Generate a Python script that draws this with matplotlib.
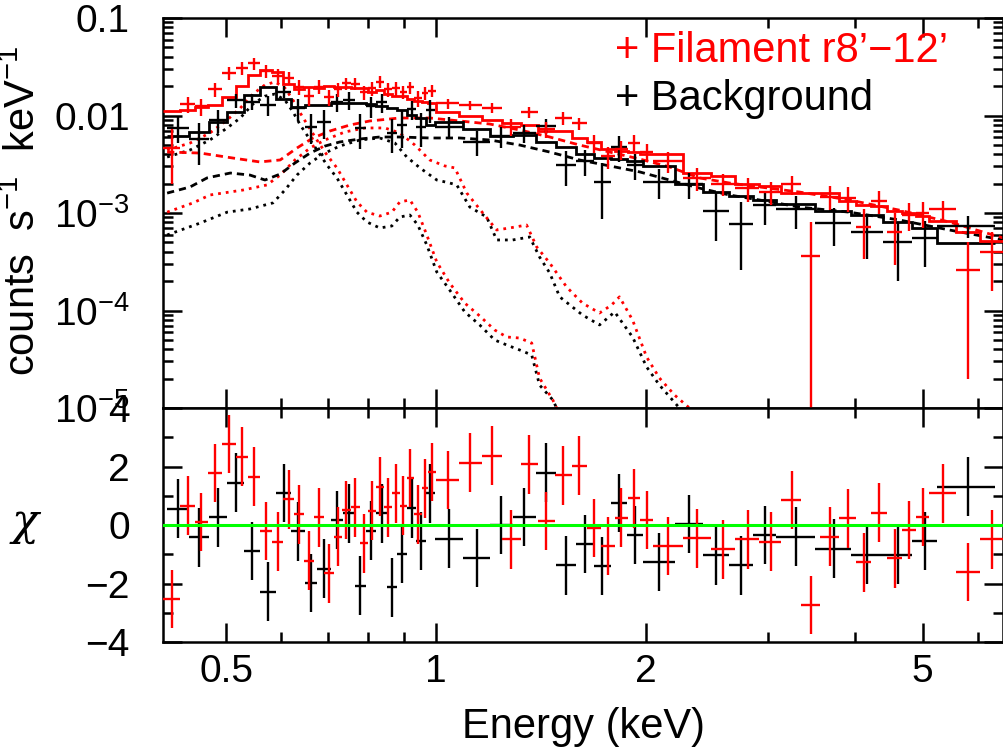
import numpy as np
import matplotlib.pyplot as plt
from matplotlib.ticker import FixedLocator, FixedFormatter, NullFormatter

plt.rcParams['font.family'] = ['Liberation Sans', 'DejaVu Sans']
plt.rcParams['mathtext.fontset'] = 'custom'
plt.rcParams['mathtext.rm'] = 'Liberation Sans'
plt.rcParams['mathtext.it'] = 'Liberation Sans:italic'
plt.rcParams['mathtext.bf'] = 'Liberation Sans:bold'

# ---- Filament r8'-12' (red) : bin edges (keV), counts/s/keV, 1-sigma, folded model, chi
red_edges = [0.406, 0.430, 0.451, 0.471, 0.494, 0.517, 0.538, 0.559, 0.582, 0.604,
             0.626, 0.647, 0.669, 0.691, 0.714, 0.733, 0.755, 0.778, 0.799, 0.820,
             0.842, 0.865, 0.888, 0.909, 0.930, 0.955, 0.974, 1.000, 1.079, 1.164,
             1.243, 1.324, 1.400, 1.481, 1.567, 1.646, 1.724, 1.806, 1.885, 1.967,
             2.047, 2.260, 2.480, 2.692, 2.913, 3.133, 3.347, 3.564, 3.795, 4.014,
             4.217, 4.445, 4.671, 4.892, 5.107, 5.582, 6.042, 6.52]
red_flux = [0.0046, 0.0130, 0.0124, 0.0186, 0.0271, 0.0305, 0.0343, 0.0288, 0.0256, 0.0243,
            0.0197, 0.0157, 0.0198, 0.0154, 0.0186, 0.0214, 0.0212, 0.0173, 0.0190, 0.0222,
            0.0186, 0.0190, 0.0175, 0.0194, 0.0150, 0.0169, 0.0180, 0.0133, 0.0128, 0.0120,
            0.0077, 0.0109, 0.0072, 0.0094, 0.0083, 0.0052, 0.0038, 0.0045, 0.0052, 0.0042,
            0.0034, 0.0023, 0.0020, 0.0018, 0.00165, 0.00197, 0.00036, 0.00147, 0.00143, 0.00072,
            0.00133, 0.00064, 0.00096, 0.00101, 0.00109, 0.00026, 0.00040]
red_err = [0.0026, 0.0023, 0.0025, 0.0032, 0.0042, 0.0045, 0.0049, 0.0045, 0.0045, 0.0035,
           0.0033, 0.0033, 0.0031, 0.0028, 0.0030, 0.0031, 0.0031, 0.0030, 0.0030, 0.0030,
           0.0030, 0.0030, 0.0028, 0.0028, 0.0027, 0.0026, 0.0025, 0.0016, 0.0014, 0.0013,
           0.0015, 0.0014, 0.0013, 0.0014, 0.0012, 0.0011, 0.0010, 0.0010, 0.0011, 0.0009,
           0.0008, 0.0006, 0.0005, 0.0005, 0.00045, 0.00045, 0.00045, 0.0004, 0.0004, 0.00038,
           0.00035, 0.00035, 0.0003, 0.0003, 0.00025, 0.00024, 0.00024]
red_model = [0.0112, 0.0115, 0.0122, 0.0129, 0.0155, 0.0200, 0.0262, 0.0295, 0.0282, 0.0212,
             0.0185, 0.0195, 0.0190, 0.0200, 0.0198, 0.0198, 0.0193, 0.0192, 0.0175, 0.0183,
             0.0168, 0.0158, 0.0157, 0.0149, 0.0140, 0.0136, 0.0135, 0.0109, 0.0098, 0.0089,
             0.0084, 0.0080, 0.0070, 0.0070, 0.0059, 0.0053, 0.0045, 0.0043, 0.0042, 0.0040,
             0.0040, 0.0026, 0.0024, 0.0020, 0.0019, 0.0016, 0.00159, 0.0016, 0.00134, 0.00121,
             0.00118, 0.00104, 0.00101, 0.00093, 0.00082, 0.00064, 0.00052]
red_chi = [-2.53, 0.66, 0.10, 1.78, 2.77, 2.34, 1.65, -0.20, -0.57, 0.88,
           0.36, -1.22, 0.26, -1.65, -0.40, 0.51, 0.60, -0.63, 0.49, 1.31,
           0.60, 1.08, 0.66, 1.60, 0.36, 1.25, 1.82, 1.53, 2.13, 2.37,
           -0.49, 2.07, 0.13, 1.70, 2.03, -0.10, -0.71, 0.25, 0.91, 0.17,
           -0.72, -0.46, -0.83, -0.49, -0.57, 0.85, -2.74, -0.40, 0.23, -1.28,
           0.42, -1.14, -0.17, 0.28, 1.08, -1.60, -0.49]

# ---- Background (black)
blk_edges = [0.4115, 0.4424, 0.4727, 0.5018, 0.5306, 0.5594, 0.5897, 0.6196, 0.6489, 0.6751,
             0.7070, 0.7357, 0.7654, 0.7938, 0.8218, 0.8521, 0.8806, 0.9087, 0.9376, 0.9676,
             0.9967, 1.0950, 1.1951, 1.2895, 1.3911, 1.4886, 1.5876, 1.6847, 1.7848, 1.8817,
             1.9802, 2.2014, 2.4144, 2.6346, 2.8564, 3.0768, 3.5055, 3.9480, 4.3810, 4.8206,
             5.2446, 6.3505]
blk_flux = [0.0074, 0.0057, 0.0090, 0.0144, 0.0139, 0.0128, 0.0176, 0.0118, 0.0077, 0.0086,
            0.0138, 0.0145, 0.0074, 0.0124, 0.0137, 0.0066, 0.0080, 0.0116, 0.0077, 0.0114,
            0.0077, 0.0054, 0.0061, 0.0066, 0.0078, 0.0031, 0.0034, 0.00206, 0.0047, 0.0031,
            0.0021, 0.00198, 0.00106, 0.00078, 0.00121, 0.00109, 0.00079, 0.00064, 0.00050, 0.00055,
            0.00074]
blk_err = [0.0022, 0.0026, 0.0024, 0.0024, 0.0026, 0.0030, 0.0025, 0.0030, 0.0026, 0.0028,
           0.0030, 0.0030, 0.0029, 0.0030, 0.0030, 0.0025, 0.0034, 0.0026, 0.0030, 0.0031,
           0.0019, 0.0016, 0.0015, 0.0014, 0.0014, 0.0012, 0.0010, 0.0012, 0.0014, 0.0009,
           0.0007, 0.0006, 0.00054, 0.00052, 0.00046, 0.0004, 0.00033, 0.0003, 0.0003, 0.00027,
           0.00019]
blk_model = [0.0062, 0.0068, 0.0086, 0.0109, 0.0162, 0.0197, 0.0149, 0.0122, 0.0129, 0.0128,
             0.0133, 0.0133, 0.0134, 0.0130, 0.0125, 0.0119, 0.0114, 0.0101, 0.0094, 0.0080,
             0.0086, 0.0072, 0.0061, 0.0063, 0.0053, 0.0048, 0.0040, 0.0037, 0.0036, 0.0034,
             0.0030, 0.0020, 0.00165, 0.00150, 0.00137, 0.00124, 0.00106, 0.00095, 0.00081, 0.00070,
             0.00049]
blk_chi = [0.56, -0.42, 0.26, 1.45, -0.89, -2.28, 1.10, -0.22, -1.99, -1.49,
           0.17, 0.40, -2.07, -0.19, 0.40, -2.13, -0.99, 0.57, -0.55, 1.08,
           -0.47, -1.13, 0.00, 0.28, 1.79, -1.38, -0.65, -1.40, 0.76, -0.34,
           -1.26, 0.03, -1.04, -1.38, -0.35, -0.40, -0.81, -1.01, -1.01, -0.55,
           1.31]

# ---- model components (keV, counts/s/keV)
# soft thermal component peaking near 0.57 keV (dotted)
blk_soft_e = [0.4115, 0.444, 0.474, 0.5018, 0.524, 0.5464, 0.5686, 0.5876, 0.6074, 0.6237,
              0.639, 0.6532, 0.6751, 0.6978, 0.7213, 0.7455, 0.7706, 0.7964, 0.831, 0.8648,
              0.888, 0.918, 0.9423, 0.9707, 1.0033, 1.047, 1.1006, 1.156, 1.215, 1.264,
              1.319, 1.373, 1.409, 1.472, 1.496]
blk_soft_f = [0.00375, 0.00443, 0.00561, 0.00745, 0.00943, 0.0131, 0.0158, 0.0166, 0.0144, 0.0109,
              0.00799, 0.00631, 0.00443, 0.00311, 0.00229, 0.00153, 0.00102, 0.000809, 0.000702, 0.000736,
              0.000910, 0.000953, 0.000753, 0.000470, 0.000248, 0.000162, 0.0000966, 0.0000711, 0.0000498, 0.0000443,
              0.0000394, 0.0000350, 0.0000172, 0.0000121, 0.0000095]
red_soft_e = blk_soft_e
red_soft_f = [0.00443, 0.00522, 0.00662, 0.00899, 0.0119, 0.0166, 0.0206, 0.0221, 0.0191, 0.0144,
              0.0106, 0.00818, 0.00561, 0.00394, 0.00290, 0.00194, 0.00130, 0.00102, 0.000931, 0.00102,
              0.00130, 0.00136, 0.00102, 0.000595, 0.000314, 0.000191, 0.000119, 0.0000879, 0.0000631, 0.0000535,
              0.0000522, 0.0000464, 0.0000203, 0.0000121, 0.0000095]
# warmer thermal component (dotted)
blk_warm_e = [0.4115, 0.459, 0.5018, 0.541, 0.5839, 0.6074, 0.6320, 0.660, 0.6887, 0.728,
              0.778, 0.831, 0.8736, 0.9087, 0.949, 1.0033, 1.047, 1.0717, 1.119, 1.183,
              1.223, 1.2895, 1.364, 1.409, 1.457, 1.506, 1.624, 1.718, 1.806, 1.916,
              2.007, 2.094, 2.237]
blk_warm_f = [0.000595, 0.000789, 0.00102, 0.00110, 0.00127, 0.00172, 0.00245, 0.00326, 0.00403, 0.00486,
              0.00561, 0.00588, 0.00522, 0.00375, 0.00290, 0.00218, 0.00203, 0.00194, 0.00115, 0.000910,
              0.000529, 0.000529, 0.000568, 0.000354, 0.000243, 0.000138, 0.0000899, 0.0000711, 0.0000966, 0.0000535,
              0.0000264, 0.0000172, 0.00001]
red_warm_e = [0.4115, 0.4484, 0.474, 0.5288, 0.5724, 0.598, 0.6279, 0.660, 0.6933, 0.7405,
              0.7911, 0.8452, 0.888, 0.9330, 0.980, 1.030, 1.065, 1.108, 1.168, 1.223,
              1.276, 1.350, 1.396, 1.457, 1.541, 1.624, 1.718, 1.788, 1.835, 1.916,
              2.007, 2.094, 2.201, 2.312]
red_warm_f = [0.00102, 0.00127, 0.00153, 0.00172, 0.00194, 0.00245, 0.00350, 0.00464, 0.00561, 0.00678,
              0.00745, 0.00745, 0.00662, 0.00498, 0.00350, 0.00304, 0.00290, 0.00160, 0.00100, 0.000670,
              0.000702, 0.000753, 0.000448, 0.000307, 0.000174, 0.000119, 0.0000943, 0.000114, 0.000138, 0.0000799,
              0.0000334, 0.0000203, 0.0000136, 0.00001]
# power-law component (dashed)
blk_pow_e = [0.4115, 0.444, 0.4696, 0.507, 0.541, 0.5686, 0.598, 0.6279, 0.660, 0.6933,
             0.728, 0.778, 0.831, 0.888, 0.980, 1.082, 1.195, 1.319, 1.457, 1.608,
             1.776, 1.961, 2.165, 2.390, 2.639, 2.914, 3.326, 3.922, 4.627, 5.456, 6.52]
blk_pow_f = [0.00160, 0.00185, 0.00229, 0.00257, 0.00245, 0.00218, 0.00251, 0.00326, 0.00412, 0.00486,
             0.00535, 0.00574, 0.00602, 0.00602, 0.00588, 0.00588, 0.00561, 0.00498, 0.00422, 0.00350,
             0.00304, 0.00264, 0.00218, 0.00180, 0.00153, 0.00136, 0.00115, 0.00102, 0.000848, 0.000670, 0.000529]
red_pow_e = [0.4115, 0.459, 0.5117, 0.559, 0.598, 0.6320, 0.6663, 0.705, 0.753, 0.804,
             0.888, 0.980, 1.082, 1.195, 1.319, 1.457, 1.608, 1.776, 1.961, 2.165,
             2.390, 2.639, 2.914, 3.326, 3.922, 4.627, 5.456, 6.52]
red_pow_f = [0.00422, 0.00412, 0.00366, 0.00334, 0.00350, 0.00464, 0.00588, 0.00694, 0.00799, 0.00879,
             0.00943, 0.00943, 0.00879, 0.00818, 0.00711, 0.00602, 0.00498, 0.00422, 0.00358, 0.00297,
             0.00229, 0.00203, 0.00185, 0.00164, 0.00136, 0.00107, 0.000809, 0.000555]

fig = plt.figure(figsize=(10.04, 7.5), dpi=100)
ax1 = fig.add_axes([0.1624, 0.456, 0.8367, 0.520])
ax2 = fig.add_axes([0.1624, 0.144, 0.8367, 0.312], sharex=ax1)

dotted = (0, (1, 1.8))
dashed = (0, (2.6, 1.8))

for e, f, c in [(blk_soft_e, blk_soft_f, 'black'), (red_soft_e, red_soft_f, 'red'),
                (blk_warm_e, blk_warm_f, 'black'), (red_warm_e, red_warm_f, 'red')]:
    ax1.plot(e, f, color=c, lw=2.0, ls=dotted, zorder=2)
for e, f, c in [(blk_pow_e, blk_pow_f, 'black'), (red_pow_e, red_pow_f, 'red')]:
    ax1.plot(e, f, color=c, lw=2.0, ls=dashed, zorder=2)

for edges, flux, err, model, chi, c in [
        (blk_edges, blk_flux, blk_err, blk_model, blk_chi, 'black'),
        (red_edges, red_flux, red_err, red_model, red_chi, 'red')]:
    edges = np.array(edges)
    lo, hi = edges[:-1], edges[1:]
    mid = (lo + hi) / 2
    xerr = [mid - lo, hi - mid]
    ax1.stairs(model, edges, baseline=None, color=c, lw=2.0, zorder=3)
    ax1.errorbar(mid, flux, xerr=xerr, yerr=err, fmt='none', ecolor=c,
                 elinewidth=1.7, capsize=0, zorder=4)
    ax2.errorbar(mid, chi, xerr=xerr, yerr=np.ones(len(chi)), fmt='none', ecolor=c,
                 elinewidth=1.7, capsize=0, zorder=4)

ax2.axhline(0, color='#00ff00', lw=2.2, zorder=6)

for ax in (ax1, ax2):
    ax.set_xscale('log')
    ax.set_xlim(0.406, 6.52)
    ax.xaxis.set_major_locator(FixedLocator([0.5, 1, 2, 5]))
    ax.xaxis.set_minor_locator(FixedLocator([0.6, 0.7, 0.8, 0.9, 3, 4, 6]))
    ax.xaxis.set_minor_formatter(NullFormatter())
    ax.tick_params(which='both', direction='in', top=True, right=True, width=1.8)
    ax.tick_params(which='major', length=13.5, labelsize=28)
    ax.tick_params(which='minor', length=7)
    ax.tick_params(axis='y', pad=24)
    for s in ax.spines.values():
        s.set_linewidth(1.8)

ax1.set_yscale('log')
ax1.set_ylim(1e-5, 0.1)
ax1.yaxis.set_major_locator(FixedLocator([1e-5, 1e-4, 1e-3, 1e-2, 1e-1]))
ax1.yaxis.set_major_formatter(FixedFormatter(['10$^{-5}$', '10$^{-4}$', '10$^{-3}$', '0.01', '0.1']))
ax1.yaxis.set_minor_locator(FixedLocator([m * 10.0 ** k for k in range(-5, -1) for m in range(2, 10)]))
ax1.yaxis.set_minor_formatter(NullFormatter())
ax1.tick_params(axis='x', labelbottom=False)

ax2.set_ylim(-4, 4)
ax2.yaxis.set_major_locator(FixedLocator([-4, -2, 0, 2, 4]))
ax2.yaxis.set_major_formatter(FixedFormatter(['\u22124', '\u22122', '0', '2', '4']))
ax2.yaxis.set_minor_locator(FixedLocator([-3, -1, 1, 3]))
ax2.xaxis.set_major_formatter(FixedFormatter(['0.5', '1', '2', '5']))
ax2.tick_params(axis='x', pad=9)

fig.text(615 / 1004, 1 - 62 / 750, '+ Filament r8\u2019\u221212\u2019', color='red',
         fontsize=30, ha='left', va='baseline')
fig.text(615 / 1004, 1 - 110 / 750, '+ Background', color='black',
         fontsize=30, ha='left', va='baseline')

fig.text(24 / 1004, 1 - 211 / 750, 'counts  s$^{-1}$  keV$^{-1}$', rotation=90,
         fontsize=30, ha='center', va='center')
fig.text(26 / 1004, 1 - 525 / 750, r'$\chi$', fontsize=32, ha='center', va='center',
         math_fontfamily='dejavuserif')
fig.text(583 / 1004, 1 - 738 / 750, 'Energy (keV)', fontsize=30, ha='center', va='baseline')

fig.savefig('out.png', dpi=100)
